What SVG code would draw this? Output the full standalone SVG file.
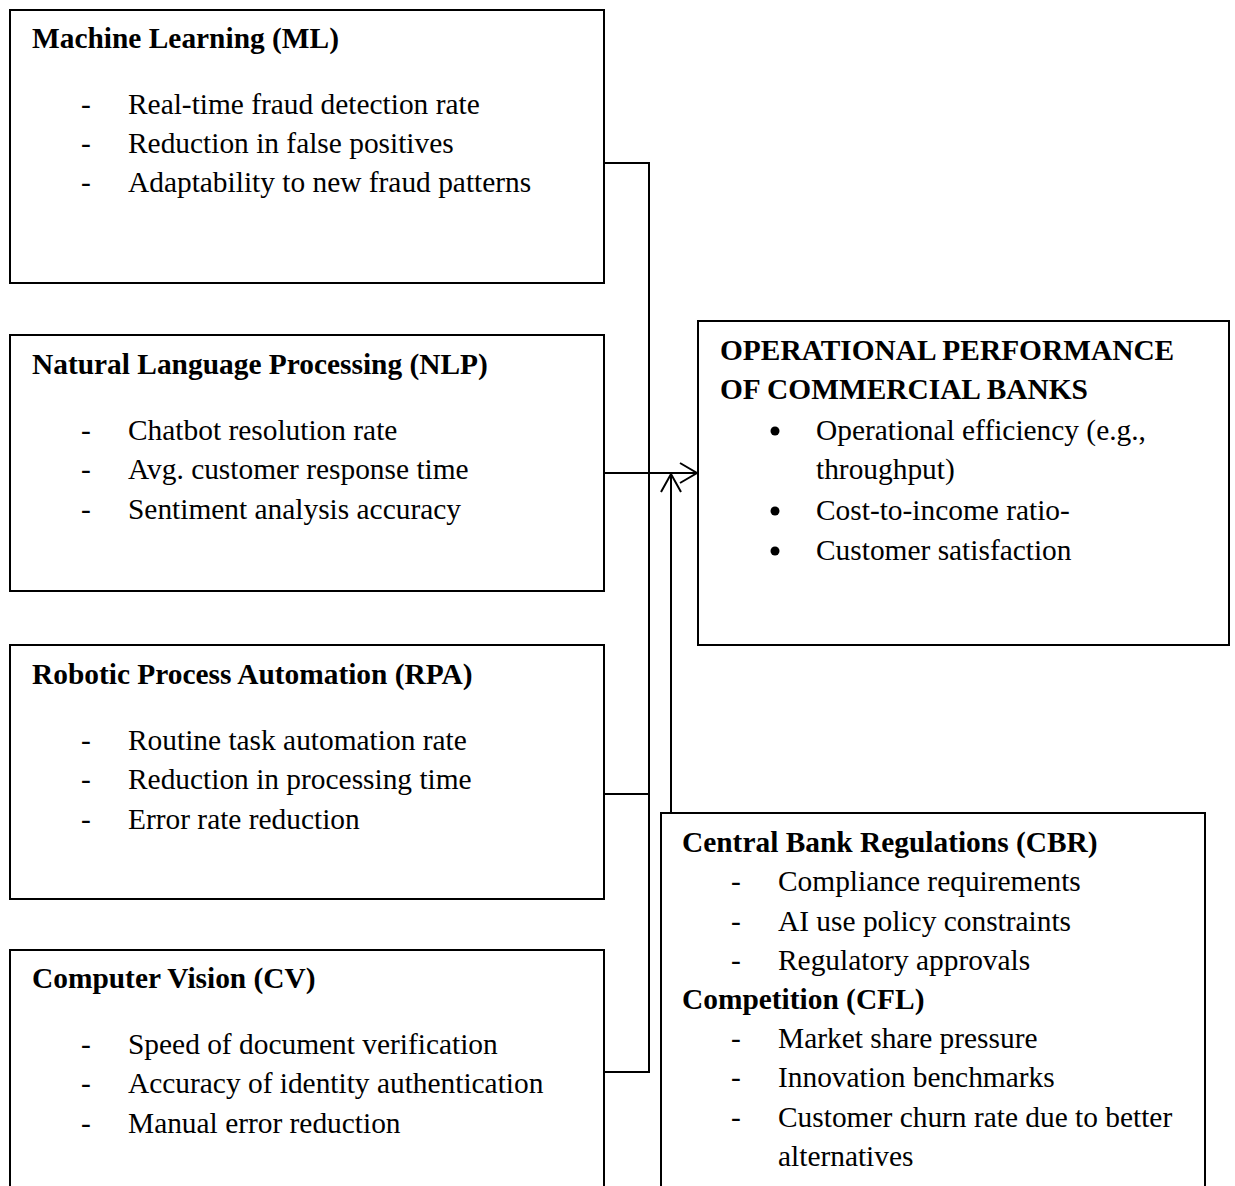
<svg xmlns="http://www.w3.org/2000/svg" width="1235" height="1186" viewBox="0 0 1235 1186">
<style>
.box{fill:#fff;stroke:#000;stroke-width:2}
.t{font-family:"Liberation Serif","Times New Roman",serif;font-size:29.4px;fill:#000}
.b{font-weight:bold}
.c{fill:none;stroke:#000;stroke-width:2}
</style>
<rect width="1235" height="1186" fill="#fff"/>
<g id="connectors">
<path class="c" d="M604,163 H649 V1072 H604"/>
<path class="c" d="M604,794 H649"/>
<path class="c" d="M604,473 H697"/>
<path class="c" d="M680,463 L697,473 L680,483"/>
<path class="c" d="M671,813 V474"/>
<path class="c" d="M661,492 L671,474 L681,492"/>
</g>
<g id="ml">
<rect class="box" x="10" y="10" width="594" height="273"/>
<text class="t b" x="32" y="48">Machine Learning (ML)</text>
<text class="t" x="81" y="114">-</text><text class="t" x="128" y="114">Real-time fraud detection rate</text>
<text class="t" x="81" y="153">-</text><text class="t" x="128" y="153">Reduction in false positives</text>
<text class="t" x="81" y="192">-</text><text class="t" x="128" y="192">Adaptability to new fraud patterns</text>
</g>
<g id="nlp">
<rect class="box" x="10" y="335" width="594" height="256"/>
<text class="t b" x="32" y="374">Natural Language Processing (NLP)</text>
<text class="t" x="81" y="440">-</text><text class="t" x="128" y="440">Chatbot resolution rate</text>
<text class="t" x="81" y="479">-</text><text class="t" x="128" y="479">Avg. customer response time</text>
<text class="t" x="81" y="519">-</text><text class="t" x="128" y="519">Sentiment analysis accuracy</text>
</g>
<g id="rpa">
<rect class="box" x="10" y="645" width="594" height="254"/>
<text class="t b" x="32" y="684">Robotic Process Automation (RPA)</text>
<text class="t" x="81" y="750">-</text><text class="t" x="128" y="750">Routine task automation rate</text>
<text class="t" x="81" y="789">-</text><text class="t" x="128" y="789">Reduction in processing time</text>
<text class="t" x="81" y="829">-</text><text class="t" x="128" y="829">Error rate reduction</text>
</g>
<g id="cv">
<rect class="box" x="10" y="950" width="594" height="250"/>
<text class="t b" x="32" y="988">Computer Vision (CV)</text>
<text class="t" x="81" y="1054">-</text><text class="t" x="128" y="1054">Speed of document verification</text>
<text class="t" x="81" y="1093">-</text><text class="t" x="128" y="1093">Accuracy of identity authentication</text>
<text class="t" x="81" y="1133">-</text><text class="t" x="128" y="1133">Manual error reduction</text>
</g>
<g id="op">
<rect class="box" x="698" y="321" width="531" height="324"/>
<text class="t b" x="720" y="360">OPERATIONAL PERFORMANCE</text>
<text class="t b" x="720" y="399">OF COMMERCIAL BANKS</text>
<circle cx="775" cy="431" r="4.5"/><text class="t" x="816" y="440">Operational efficiency (e.g.,</text>
<text class="t" x="816" y="479">throughput)</text>
<circle cx="775" cy="511" r="4.5"/><text class="t" x="816" y="520">Cost-to-income ratio-</text>
<circle cx="775" cy="551" r="4.5"/><text class="t" x="816" y="560">Customer satisfaction</text>
</g>
<g id="cbr">
<rect class="box" x="661" y="813" width="544" height="390"/>
<text class="t b" x="682" y="852">Central Bank Regulations (CBR)</text>
<text class="t" x="731" y="891">-</text><text class="t" x="778" y="891">Compliance requirements</text>
<text class="t" x="731" y="931">-</text><text class="t" x="778" y="931">AI use policy constraints</text>
<text class="t" x="731" y="970">-</text><text class="t" x="778" y="970">Regulatory approvals</text>
<text class="t b" x="682" y="1009">Competition (CFL)</text>
<text class="t" x="731" y="1048">-</text><text class="t" x="778" y="1048">Market share pressure</text>
<text class="t" x="731" y="1087">-</text><text class="t" x="778" y="1087">Innovation benchmarks</text>
<text class="t" x="731" y="1127">-</text><text class="t" x="778" y="1127">Customer churn rate due to better</text>
<text class="t" x="778" y="1166">alternatives</text>
</g>
</svg>
